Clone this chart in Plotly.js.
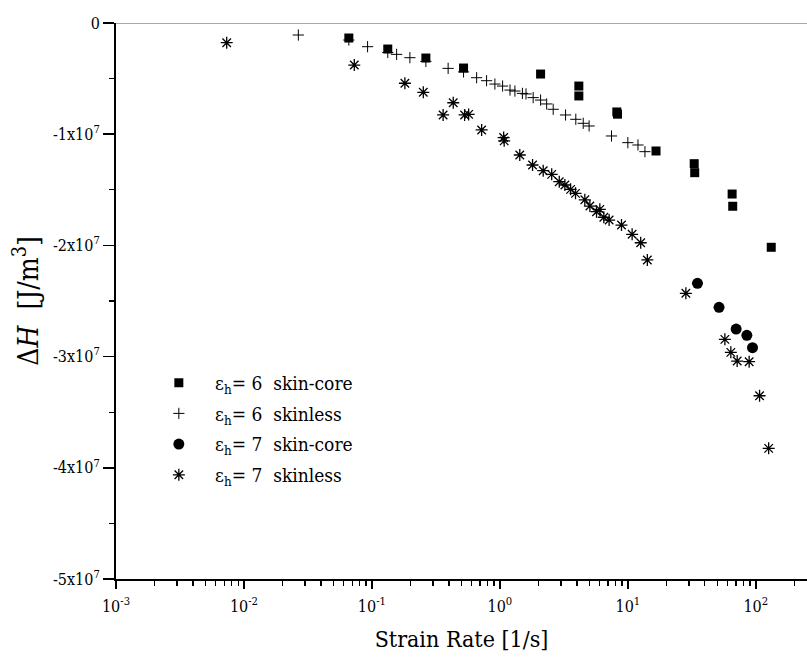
<!DOCTYPE html>
<html>
<head>
<meta charset="utf-8">
<script src="https://cdn.plot.ly/plotly-3.0.1.min.js"></script>
<style>html,body{margin:0;padding:0;background:#fff;}#chart{width:807px;height:660px;}</style>
</head>
<body>
<div id="chart"></div>
<script>
// eps_h = 6 skin-core
const sc6X = [0.066, 0.133, 0.264, 0.52, 2.08, 4.14, 4.14, 8.2, 8.3, 16.6, 33, 33.3, 65.3, 66, 132];
const sc6Y = [-0.135e7, -0.234e7, -0.315e7, -0.405e7, -0.459e7, -0.567e7, -0.656e7, -0.80e7, -0.82e7, -1.151e7, -1.265e7, -1.346e7, -1.538e7, -1.648e7, -2.017e7];
// eps_h = 6 skinless
const sl6X = [0.0266, 0.066, 0.0925, 0.133, 0.156, 0.198, 0.264, 0.394, 0.52, 0.658, 0.787, 0.914, 1.05, 1.20, 1.31, 1.50, 1.60, 1.82, 2.08, 2.32, 2.61, 3.26, 3.92, 4.48, 4.98, 7.45, 10.0, 12.0, 13.6];
const sl6Y = [-0.108e7, -0.153e7, -0.213e7, -0.265e7, -0.282e7, -0.312e7, -0.345e7, -0.408e7, -0.44e7, -0.492e7, -0.519e7, -0.549e7, -0.567e7, -0.603e7, -0.612e7, -0.633e7, -0.638e7, -0.671e7, -0.693e7, -0.728e7, -0.776e7, -0.827e7, -0.866e7, -0.902e7, -0.926e7, -1.016e7, -1.076e7, -1.097e7, -1.157e7];
// eps_h = 7 skin-core
const sc7X = [35, 51.6, 70.2, 85.1, 94.2];
const sc7Y = [-2.341e7, -2.557e7, -2.752e7, -2.809e7, -2.92e7];
// eps_h = 7 skinless
const sl7X = [0.00733, 0.0728, 0.181, 0.252, 0.36, 0.432, 0.53, 0.57, 0.72, 1.07, 1.08, 1.43, 1.80, 2.18, 2.54, 2.91, 3.22, 3.57, 3.90, 4.61, 5.05, 5.69, 6.04, 6.49, 7.14, 8.92, 10.8, 12.6, 14.2, 28.4, 57.3, 63.8, 71.5, 88.7, 107, 126];
const sl7Y = [-0.177e7, -0.378e7, -0.542e7, -0.623e7, -0.827e7, -0.717e7, -0.827e7, -0.822e7, -0.962e7, -1.03e7, -1.06e7, -1.187e7, -1.277e7, -1.328e7, -1.361e7, -1.427e7, -1.457e7, -1.496e7, -1.532e7, -1.590e7, -1.646e7, -1.697e7, -1.676e7, -1.747e7, -1.772e7, -1.817e7, -1.90e7, -1.976e7, -2.131e7, -2.431e7, -2.845e7, -2.962e7, -3.04e7, -3.046e7, -3.352e7, -3.825e7];

const names = [
  '\u00A0\u00A0\u00A0\u03B5<sub>h</sub>= 6\u00A0\u00A0skin-core',
  '\u00A0\u00A0\u00A0\u03B5<sub>h</sub>= 6\u00A0\u00A0skinless',
  '\u00A0\u00A0\u00A0\u03B5<sub>h</sub>= 7\u00A0\u00A0skin-core',
  '\u00A0\u00A0\u00A0\u03B5<sub>h</sub>= 7\u00A0\u00A0skinless'
];

const xTickVals = [1e-3, 1e-2, 1e-1, 1, 10, 100];
const xTickText = ['10<sup>-3</sup>', '10<sup>-2</sup>', '10<sup>-1</sup>', '10<sup>0</sup>', '10<sup>1</sup>', '10<sup>2</sup>'];
const yTickVals = [0, -1e7, -2e7, -3e7, -4e7, -5e7];
const yTickText = ['0', '-1x10<sup>7</sup>', '-2x10<sup>7</sup>', '-3x10<sup>7</sup>', '-4x10<sup>7</sup>', '-5x10<sup>7</sup>'];

const serif = 'DejaVu Serif Condensed, DejaVu Serif';

const traces = [
  {x: sc6X, y: sc6Y, name: names[0], legendgroup: 'a', mode: 'markers', type: 'scatter',
   marker: {symbol: 'square', size: 9, color: '#000'}},
  {x: sl6X, y: sl6Y, name: names[1], legendgroup: 'b', mode: 'markers', type: 'scatter',
   marker: {symbol: 'cross-thin-open', size: 8, color: '#000', line: {color: '#000', width: 1}}},
  {x: sc7X, y: sc7Y, name: names[2], legendgroup: 'c', mode: 'markers', type: 'scatter',
   marker: {symbol: 'circle', size: 11, color: '#000'}},
  {x: sl7X, y: sl7Y, name: names[3], legendgroup: 'd', mode: 'markers', type: 'scatter',
   marker: {symbol: 'asterisk-open', size: 10, color: '#000', line: {color: '#000', width: 1.3}}}
];

const layout = {
  width: 807, height: 660,
  margin: {l: 116, r: 0, t: 23, b: 81},
  paper_bgcolor: '#fff', plot_bgcolor: '#fff',
  font: {family: serif, color: '#000', size: 16},
  showlegend: true,
  legend: {x: 0.062, y: 0.387, xanchor: 'left', yanchor: 'top', bgcolor: 'rgba(0,0,0,0)',
           font: {family: serif, size: 19, color: '#000'}, tracegroupgap: 3},
  xaxis: {
    type: 'log', range: [-3, 2.4],
    showgrid: false, zeroline: false,
    showline: true, linecolor: '#000', linewidth: 2,
    ticks: 'outside', ticklen: 8, tickwidth: 1.5, tickcolor: '#000',
    tickmode: 'array', tickvals: xTickVals, ticktext: xTickText,
    tickfont: {family: serif, size: 16}, ticklabelstandoff: 4,
    minor: {ticks: 'outside', ticklen: 5, tickwidth: 1.2, tickcolor: '#000', dtick: 'D1', showgrid: false},
    title: {text: 'Strain Rate [1/s]', font: {family: serif, size: 23}, standoff: 16}
  },
  yaxis: {
    range: [-5e7, 0],
    showgrid: false, zeroline: false,
    showline: true, linecolor: '#000', linewidth: 2,
    ticks: 'outside', ticklen: 11, tickwidth: 1.5, tickcolor: '#000',
    tickmode: 'array', tickvals: yTickVals, ticktext: yTickText,
    tickfont: {family: serif, size: 16},
    minor: {ticks: 'outside', ticklen: 5, tickwidth: 1.2, tickcolor: '#000', tickmode: 'linear', tick0: 0, dtick: 5e6, showgrid: false},
    title: {text: '\u0394<i>H</i>\u00A0\u00A0[J/m<sup>3</sup>]', font: {family: serif, size: 28}, standoff: 6}
  },
  shapes: [
    {type: 'line', xref: 'paper', x0: 0, x1: 1, yref: 'y', y0: 0, y1: 0, line: {color: '#555', width: 1}}
  ]
};

Plotly.newPlot('chart', traces, layout, {displayModeBar: false, staticPlot: true});
</script>
</body>
</html>
